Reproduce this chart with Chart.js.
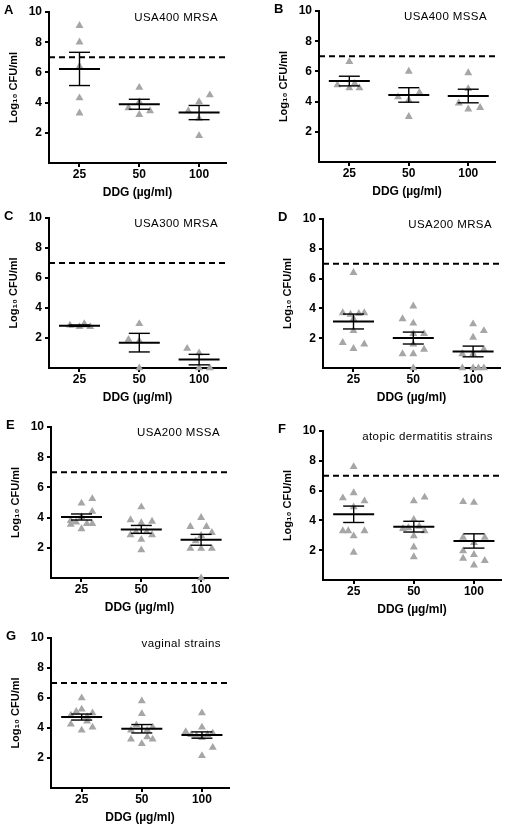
<!DOCTYPE html>
<html>
<head>
<meta charset="utf-8">
<script src="https://cdn.jsdelivr.net/npm/chart.js@4.4.1/dist/chart.umd.min.js"></script>
<style>
  body { margin: 0; background: #fff; width: 508px; height: 829px; position: relative; overflow: hidden; }
  canvas { position: absolute; }
</style>
</head>
<body>
<script>
const doseLabels = ['25', '50', '100'];
const yTicks = [2, 4, 6, 8, 10];
const cutoff = 7;

const panelLetters = ['A', 'B', 'C', 'D', 'E', 'F', 'G'];
const strainNames = ['USA400 MRSA', 'USA400 MSSA', 'USA300 MRSA', 'USA200 MRSA',
    'USA200 MSSA', 'atopic dermatitis strains', 'vaginal strains'];

// Log10 CFU/ml per dose, horizontal jitter (in dose units), mean and SEM
const aValues = [[9.1, 8.0, 6.4, 4.3, 3.3], [5.0, 4.05, 3.65, 3.45, 3.2], [4.5, 4.05, 3.45, 2.95, 1.8]];
const aJitter = [[0, 0, 0, 0, 0], [0, 0, -0.18, 0.18, 0], [0.18, 0, -0.18, 0, 0]];
const aMean = [6.23, 3.89, 3.34];
const aSem = [1.1, 0.33, 0.47];

const bValues = [[6.65, 5.2, 5.1, 4.9, 4.9], [6.0, 4.6, 4.3, 4.1, 3.0], [5.9, 4.85, 3.9, 3.6, 3.5]];
const bJitter = [[0, 0.09, -0.2, 0, 0.17], [0, 0.18, -0.18, 0, 0], [0, 0, -0.16, 0.2, 0]];
const bMean = [5.36, 4.44, 4.37];
const bSem = [0.32, 0.48, 0.45];

const cValues = [[2.85, 2.75, 2.95, 2.75], [2.95, 1.9, 1.8, 0], [1.3, 1.0, 0, 0]];
const cJitter = [[-0.16, 0, 0.08, 0.18], [0, -0.18, 0, 0], [-0.2, 0, 0, 0.18]];
const cMean = [2.82, 1.69, 0.56];
const cSem = [0.05, 0.62, 0.35];

const dValues = [[6.4, 3.7, 3.65, 3.7, 3.6, 3.3, 2.5, 1.7, 1.3, 1.6],
    [4.15, 3.3, 3.0, 2.3, 2.3, 1.6, 1.25, 0.95, 0.95, 0],
    [2.95, 2.5, 2.05, 1.25, 0.95, 0.95, 0, 0, 0, 0]];
const dJitter = [[0, -0.18, 0.09, 0.18, -0.05, 0, 0, -0.18, 0, 0.18],
    [0, -0.18, 0, 0.18, 0, 0, 0.18, -0.18, 0, 0],
    [0, 0.18, 0, 0.18, -0.18, 0, -0.18, 0, 0.18, 0.09]];
const dMean = [3.12, 2.01, 1.11];
const dSem = [0.5, 0.4, 0.36];

const eValues = [[5.25, 4.95, 4.4, 4.05, 3.8, 3.7, 3.6, 3.6, 3.55, 3.25],
    [4.7, 3.85, 3.75, 3.65, 3.05, 3.05, 2.85, 2.85, 2.55, 1.85],
    [4.0, 3.4, 3.4, 3.0, 2.8, 2.45, 1.95, 1.95, 1.95, 0]];
const eJitter = [[0.18, 0, 0.18, 0, -0.18, -0.09, 0.09, 0.18, -0.18, 0],
    [0, -0.18, 0.18, 0, -0.09, 0.09, -0.18, 0.18, 0, 0],
    [0, -0.18, 0.09, 0.18, 0, -0.09, -0.18, 0, 0.18, 0]];
const eMean = [4.04, 3.22, 2.53];
const eSem = [0.2, 0.26, 0.36];

const fValues = [[7.6, 5.85, 5.5, 5.3, 4.9, 3.3, 3.3, 3.3, 2.95, 1.85],
    [5.55, 5.3, 4.05, 3.6, 3.5, 3.45, 3.3, 2.95, 2.2, 1.55],
    [5.25, 5.2, 2.85, 2.85, 2.5, 1.95, 1.7, 1.45, 1.3, 1.0]];
const fJitter = [[0, 0, -0.18, 0.18, 0, -0.18, -0.09, 0.18, 0, 0],
    [0.18, 0, 0, 0.09, -0.09, -0.18, 0.18, 0, 0, 0],
    [-0.18, 0, -0.18, 0.18, 0, -0.18, 0, -0.18, 0.18, 0]];
const fMean = [4.41, 3.58, 2.62];
const fSem = [0.55, 0.36, 0.48];

const gValues = [[6.0, 5.25, 5.1, 5.0, 4.85, 4.75, 4.45, 4.25, 4.05, 3.85],
    [5.8, 4.95, 4.2, 4.05, 3.85, 3.85, 3.4, 3.25, 3.25, 2.95],
    [5.0, 4.05, 3.75, 3.55, 3.5, 3.55, 3.65, 3.35, 2.7, 2.15]];
const gJitter = [[0, 0, -0.09, 0.18, -0.18, 0.09, 0.09, -0.18, 0.18, 0],
    [0, 0, -0.09, 0.18, -0.18, 0.09, 0.09, -0.18, 0.18, 0],
    [0, 0, -0.27, -0.18, -0.09, 0.09, 0.18, 0, 0.18, 0]];
const gMean = [4.73, 3.95, 3.53];
const gSem = [0.2, 0.28, 0.21];

// plot area of each panel on the page: left, right, top, bottom
const boxes = [[49, 226, 12, 163], [319, 495, 11, 162], [49, 226, 218, 368], [323, 500, 219, 368],
    [51, 228, 427, 578], [323, 501, 431, 580], [51, 229, 638, 788]];

const X_MIN = 0.49;
const X_MAX = 3.45;
const PAD_TOP = 14;
const Y_AXIS_W = 49;
const X_AXIS_H = 45;
const PAD_RIGHT = 6;
const FONT = '"Liberation Sans", Arial, sans-serif';
const GREY = '#a6a6a6';

Chart.defaults.font.family = FONT;
Chart.defaults.color = '#000';

const panels = [
    [aValues, aJitter, aMean, aSem],
    [bValues, bJitter, bMean, bSem],
    [cValues, cJitter, cMean, cSem],
    [dValues, dJitter, dMean, dSem],
    [eValues, eJitter, eMean, eSem],
    [fValues, fJitter, fMean, fSem],
    [gValues, gJitter, gMean, gSem],
].map(([values, jitter, mean, sem], i) => ({
    values, jitter, mean, sem,
    letter: panelLetters[i],
    name: strainNames[i],
    box: boxes[i],
}));

function panelPlugin(panel) {
    return {
        id: 'panelMarks',
        afterDatasetsDraw(chart) {
            const { ctx, scales: { x, y } } = chart;
            ctx.save();
            ctx.strokeStyle = '#000';
            const seg = (x0, y0, x1, y1) => {
                ctx.beginPath();
                ctx.moveTo(x0, y0);
                ctx.lineTo(x1, y1);
                ctx.stroke();
            };
            panel.mean.forEach((m, i) => {
                const cx = x.getPixelForValue(i + 1);
                const my = y.getPixelForValue(m);
                const hi = y.getPixelForValue(m + panel.sem[i]);
                const lo = y.getPixelForValue(Math.max(0, m - panel.sem[i]));
                ctx.lineWidth = 1.4;
                seg(cx, hi, cx, lo);
                seg(cx - 10.5, hi, cx + 10.5, hi);
                seg(cx - 10.5, lo, cx + 10.5, lo);
                ctx.lineWidth = 2;
                seg(cx - 20.5, my, cx + 20.5, my);
            });
            ctx.restore();
        },
        afterDraw(chart) {
            const { ctx, chartArea } = chart;
            ctx.save();
            ctx.fillStyle = '#000';
            ctx.textBaseline = 'middle';
            ctx.font = 'bold 13px ' + FONT;
            ctx.textAlign = 'left';
            ctx.fillText(panel.letter, 4, chartArea.top - 2);
            ctx.font = '11.5px ' + FONT;
            ctx.textAlign = 'right';
            if ('letterSpacing' in ctx) ctx.letterSpacing = '0.4px';
            ctx.fillText(panel.name, chartArea.right - 8, chartArea.top + 6);
            ctx.restore();
        },
    };
}

function drawPanel(panel) {
    const [L, R, T, B] = panel.box;
    const canvas = document.createElement('canvas');
    const w = R - L + Y_AXIS_W + PAD_RIGHT;
    const h = B - T + PAD_TOP + X_AXIS_H;
    canvas.width = w;
    canvas.height = h;
    canvas.style.width = w + 'px';
    canvas.style.height = h + 'px';
    canvas.style.left = (L - Y_AXIS_W) + 'px';
    canvas.style.top = (T - PAD_TOP) + 'px';
    document.body.appendChild(canvas);

    const points = [];
    panel.values.forEach((vals, i) => {
        vals.forEach((v, j) => points.push({ x: i + 1 + panel.jitter[i][j], y: v }));
    });

    new Chart(canvas, {
        type: 'scatter',
        data: {
            datasets: [
                {
                    data: points,
                    pointStyle: 'triangle',
                    pointRadius: 4.6,
                    pointHoverRadius: 4.6,
                    backgroundColor: GREY,
                    borderWidth: 0,
                    clip: false,
                },
                {
                    data: [{ x: X_MIN, y: cutoff }, { x: X_MAX, y: cutoff }],
                    showLine: true,
                    borderColor: '#000',
                    borderWidth: 2,
                    borderDash: [6, 4],
                    pointRadius: 0,
                    clip: false,
                },
            ],
        },
        options: {
            responsive: false,
            animation: false,
            devicePixelRatio: 1,
            events: [],
            layout: { padding: { top: PAD_TOP, right: PAD_RIGHT, left: 0, bottom: 0 } },
            plugins: { legend: { display: false }, tooltip: { enabled: false } },
            scales: {
                x: {
                    type: 'linear',
                    min: X_MIN,
                    max: X_MAX,
                    z: 1,
                    afterBuildTicks: (s) => { s.ticks = doseLabels.map((_, i) => ({ value: i + 1 })); },
                    afterFit: (s) => { s.height = X_AXIS_H; },
                    ticks: {
                        callback: (v) => doseLabels[Math.round(v) - 1],
                        font: { size: 12, weight: 'bold' },
                        color: '#000',
                        padding: 0,
                        maxRotation: 0,
                        autoSkip: false,
                    },
                    grid: { drawOnChartArea: false, drawTicks: true, tickLength: 4, color: '#000', lineWidth: 2 },
                    border: { display: true, color: '#000', width: 2 },
                    title: {
                        display: true,
                        text: 'DDG (µg/ml)',
                        font: { size: 12, weight: 'bold' },
                        color: '#000',
                        padding: { top: 0, bottom: 8 },
                    },
                },
                y: {
                    type: 'linear',
                    min: 0,
                    max: 10,
                    afterBuildTicks: (s) => { s.ticks = yTicks.map((v) => ({ value: v })); },
                    afterFit: (s) => { s.width = Y_AXIS_W; },
                    ticks: { font: { size: 12, weight: 'bold' }, color: '#000', padding: 3 },
                    grid: { drawOnChartArea: false, drawTicks: true, tickLength: 4, color: '#000', lineWidth: 2 },
                    border: { display: true, color: '#000', width: 2 },
                    title: {
                        display: true,
                        text: 'Log₁₀ CFU/ml',
                        font: { size: 11, weight: 'bold' },
                        color: '#000',
                        padding: { top: 7, bottom: 0 },
                    },
                },
            },
        },
        plugins: [panelPlugin(panel)],
    });
}

panels.forEach(drawPanel);
</script>
</body>
</html>
